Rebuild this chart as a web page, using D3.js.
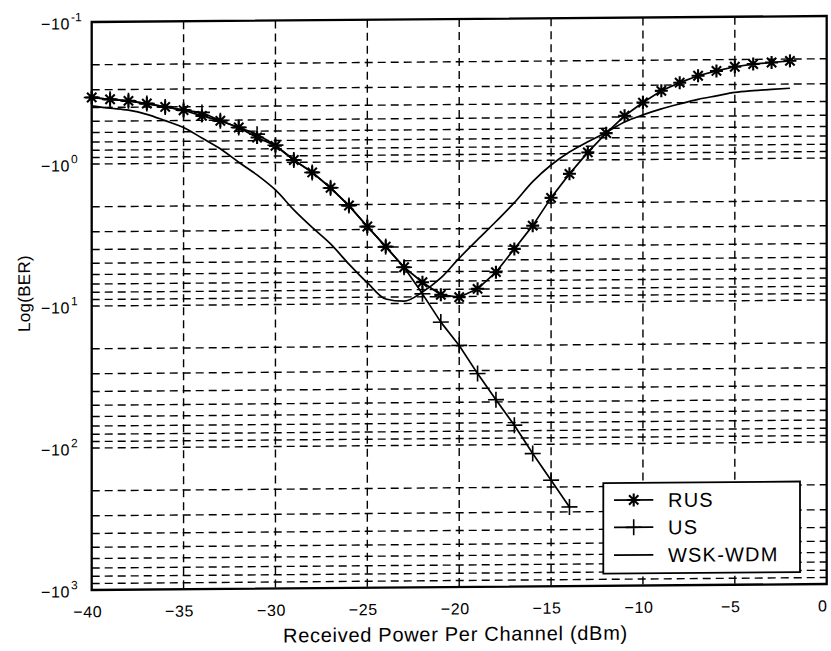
<!DOCTYPE html>
<html>
<head>
<meta charset="utf-8">
<script src="https://cdn.jsdelivr.net/npm/d3@7"></script>
<style>
  body { margin: 0; background: #fff; }
  svg { display: block; }
  text { font-family: "Liberation Sans", Arial, sans-serif; fill: #000; }
</style>
</head>
<body>
<svg id="chart" width="831" height="651"></svg>
<script>
// Received power per channel (dBm)
const powerRus = [-40,-39,-38,-37,-36,-35,-34,-33,-32,-31,-30,-29,-28,-27,-26,-25,-24,-23,-22,-21,
                  -20,-19,-18,-17,-16,-15,-14,-13,-12,-11,-10,-9,-8,-7,-6,-5,-4,-3,-2];
const powerUs  = [-40,-39,-38,-37,-36,-35,-34,-33,-32,-31,-30,-29,-28,-27,-26,-25,-24,-23,-22,-21,
                  -20,-19,-18,-17,-16,-15,-14];
const powerWsk = powerRus;

// Log(BER) for each scheme
const berRus = [-0.340,-0.351,-0.361,-0.378,-0.400,-0.423,-0.465,-0.505,-0.564,-0.665,
                -0.763,-0.963,-1.18,-1.52,-2.03,-2.86,-3.97,-5.56,-7.11,-8.73,
                -9.10,-7.96,-6.10,-4.19,-2.88,-1.84,-1.25,-0.885,-0.649,-0.491,
                -0.397,-0.329,-0.289,-0.259,-0.240,-0.225,-0.216,-0.211,-0.206];
const berUs  = [-0.340,-0.351,-0.361,-0.378,-0.400,-0.423,-0.440,-0.505,-0.564,-0.630,
                -0.755,-0.963,-1.18,-1.52,-2.03,-2.86,-3.97,-5.56,-8.58,-13.6,
                -19.9,-31.5,-48.2,-73.1,-116,-179,-277];
const berWsk = [-0.390,-0.406,-0.420,-0.450,-0.500,-0.560,-0.666,-0.795,-0.991,-1.22,
                -1.56,-2.16,-2.88,-3.77,-5.24,-7.11,-9.28,-9.64,-8.33,-6.65,
                -4.83,-3.59,-2.68,-1.98,-1.41,-1.08,-0.878,-0.745,-0.641,-0.543,
                -0.485,-0.441,-0.408,-0.380,-0.360,-0.341,-0.332,-0.326,-0.321];

// Axis ticks
const xTicks = [-40,-35,-30,-25,-20,-15,-10,-5,0];
const yDecades = [-0.1,-1,-10,-100,-1000];
const yExponents = ["-1","0","1","2","3"];
const yMinorSteps = [2,3,4,5,6,7,8,9];

const seriesNames = ["RUS","US","WSK-WDM"];

const svg = d3.select("#chart");
// whole figure carries a slight vertical shear
const g = svg.append("g").attr("transform", "translate(0,0.75) skewY(-0.4675)");

const plotLeft = 91.7, plotRight = 826.7, plotTop = 22, plotBottom = 590;
const x = d3.scaleLinear().domain([-40, 0]).range([plotLeft, plotRight]);
const y = d3.scaleLog().domain([-0.1, -1000]).range([plotTop, plotBottom]);

const gridStyle = sel => sel.attr("stroke", "#000").attr("stroke-width", 1.4)
  .attr("stroke-dasharray", "8,5").attr("fill", "none");

// vertical grid
g.append("g").selectAll("line")
  .data(xTicks.filter(d => d > -40 && d < 0))
  .join("line")
  .attr("x1", d => x(d)).attr("x2", d => x(d))
  .attr("y1", plotTop).attr("y2", plotBottom)
  .call(gridStyle);

// horizontal grid (decades and their multiples)
const yGrid = [];
yDecades.slice(0, -1).forEach((dec, i) => {
  if (i > 0) yGrid.push(dec);
  yMinorSteps.forEach(s => yGrid.push(dec * s));
});
g.append("g").selectAll("line")
  .data(yGrid)
  .join("line")
  .attr("x1", plotLeft).attr("x2", plotRight)
  .attr("y1", d => y(d)).attr("y2", d => y(d))
  .call(gridStyle);

// x axis
const xAxis = g.append("g")
  .attr("transform", `translate(0,${plotBottom})`)
  .call(d3.axisBottom(x).tickValues(xTicks).tickSize(0).tickPadding(16)
        .tickFormat(d3.format("d")));
xAxis.select(".domain").remove();
xAxis.selectAll("text")
  .attr("font-size", 16).attr("dx", -4.5)
  .style("letter-spacing", "0.6px")
  .style("font-family", "'Liberation Sans', Arial, sans-serif");

// y axis
const yAxis = g.append("g")
  .attr("transform", `translate(${plotLeft},0)`)
  .call(d3.axisLeft(y).tickValues(yDecades).tickSize(0).tickPadding(21.7)
        .tickFormat(() => "\u221210"));
yAxis.select(".domain").remove();
yAxis.selectAll("text")
  .attr("font-size", 16).attr("dy", "0.42em")
  .style("letter-spacing", "0.6px")
  .style("font-family", "'Liberation Sans', Arial, sans-serif");
yAxis.selectAll(".tick").append("text")
  .attr("x", -20.7).attr("y", -1.3)
  .attr("text-anchor", "start")
  .attr("font-size", 12)
  .attr("fill", "#000")
  .style("font-family", "'Liberation Sans', Arial, sans-serif")
  .text((d, i) => yExponents[i]);

// axis titles
g.append("text")
  .attr("x", 455.5).attr("y", 644)
  .attr("text-anchor", "middle")
  .attr("font-size", 20)
  .style("letter-spacing", "0.7px")
  .text("Received Power Per Channel (dBm)");
g.append("text")
  .attr("transform", "translate(25,293) rotate(-90)")
  .attr("text-anchor", "middle")
  .attr("dominant-baseline", "central")
  .attr("font-size", 17)
  .style("letter-spacing", "0.3px")
  .text("Log(BER)");

// curves
const line = d3.line().x(d => x(d[0])).y(d => y(d[1]));
const smooth = d3.line().x(d => x(d[0])).y(d => y(d[1])).curve(d3.curveMonotoneX);

const rusPts = d3.zip(powerRus, berRus);
const usPts  = d3.zip(powerUs, berUs);
const wskPts = d3.zip(powerWsk, berWsk);

const curveStyle = sel => sel.attr("fill", "none").attr("stroke", "#000").attr("stroke-width", 1.7)
  .attr("stroke-linejoin", "round");

g.append("path").datum(wskPts).attr("d", smooth).call(curveStyle);
g.append("path").datum(usPts).attr("d", line).call(curveStyle);
g.append("path").datum(rusPts).attr("d", line).call(curveStyle);

const starPath = (s => {
  const a = s * 0.72;
  return `M${-s},0L${s},0M0,${-s}L0,${s}M${-a},${-a}L${a},${a}M${-a},${a}L${a},${-a}`;
})(6.5);
const plusPath = (s => `M${-s},0L${s},0M0,${-s}L0,${s}`)(8);

g.append("g").selectAll("path").data(usPts).join("path")
  .attr("transform", d => `translate(${x(d[0])},${y(d[1])})`)
  .attr("d", plusPath).attr("stroke", "#000").attr("stroke-width", 1.6);
g.append("g").selectAll("path").data(rusPts).join("path")
  .attr("transform", d => `translate(${x(d[0])},${y(d[1])})`)
  .attr("d", starPath).attr("stroke", "#000").attr("stroke-width", 2.1);

// axes box
g.append("rect")
  .attr("x", plotLeft).attr("y", plotTop)
  .attr("width", plotRight - plotLeft).attr("height", plotBottom - plotTop)
  .attr("fill", "none").attr("stroke", "#000").attr("stroke-width", 2.3);

// legend
const legend = g.append("g");
legend.append("rect")
  .attr("x", 603.3).attr("y", 487.3).attr("width", 196.7).attr("height", 90.5)
  .attr("fill", "#fff").attr("stroke", "#000").attr("stroke-width", 1.8);
const rowY = [504.4, 531.7, 559.4];
const markers = [starPath, plusPath, null];
seriesNames.forEach((name, i) => {
  legend.append("line")
    .attr("x1", 614).attr("x2", 653.3).attr("y1", rowY[i]).attr("y2", rowY[i])
    .attr("stroke", "#000").attr("stroke-width", 1.7);
  if (markers[i]) {
    legend.append("path")
      .attr("transform", `translate(633.7,${rowY[i]})`)
      .attr("d", markers[i]).attr("stroke", "#000")
      .attr("stroke-width", i === 0 ? 2.1 : 1.6);
  }
  legend.append("text")
    .attr("x", 668).attr("y", rowY[i])
    .attr("dy", "0.36em")
    .attr("font-size", 20)
    .style("letter-spacing", "1.2px")
    .text(name);
});
</script>
</body>
</html>
